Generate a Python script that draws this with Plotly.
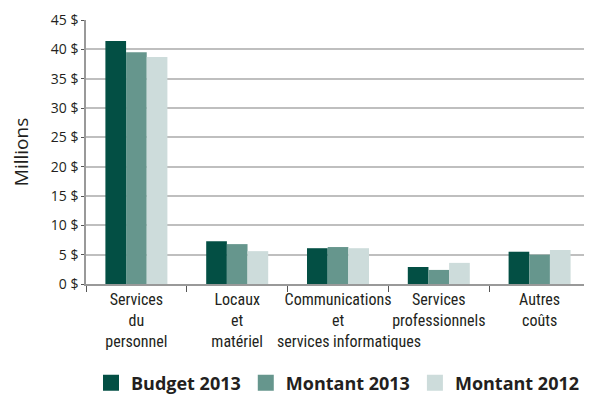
import plotly.graph_objects as go

categories = ["Services<br>du<br>personnel", "Locaux<br>et<br>matériel",
              "Communications<br>et<br>\u00a0\u00a0\u00a0\u00a0\u00a0\u00a0services informatiques",
              "Services<br>professionnels", "Autres<br>coûts"]
budget_2013 = [41.4, 7.3, 6.1, 2.9, 5.5]
montant_2013 = [39.5, 6.8, 6.3, 2.4, 5.0]
montant_2012 = [38.7, 5.6, 6.1, 3.6, 5.8]
y_ticks = [0, 5, 10, 15, 20, 25, 30, 35, 40, 45]
y_ticklabels = [f"{v} $" for v in y_ticks]

series = [("Budget 2013", budget_2013, "#034f44"),
          ("Montant 2013", montant_2013, "#66968d"),
          ("Montant 2012", montant_2012, "#cddcdb")]

fig = go.Figure()
for name, vals, col in series:
    fig.add_trace(go.Bar(name=name, x=categories, y=vals,
                         marker_color=col, marker_line_width=0, showlegend=False))
for name, vals, col in series:
    fig.add_trace(go.Scatter(name="<b>" + name + "</b>", x=[None], y=[None], mode="markers",
                             marker=dict(symbol="square", size=18, color=col),
                             showlegend=True))

font_c = "Liberation Sans Narrow, Arial Narrow, Roboto Condensed, sans-serif"
fig.update_layout(
    width=584, height=399,
    margin=dict(l=78, r=2, t=12, b=123, autoexpand=False),
    plot_bgcolor="white", paper_bgcolor="white",
    barmode="group", bargap=0.385, bargroupgap=0,
    font=dict(family=font_c, size=16, color="#231f20"),
    legend=dict(orientation="h", x=0.5, xanchor="center", y=-0.305, yanchor="top",
                font=dict(family="Open Sans, sans-serif", size=18, color="#231f20"),
                itemwidth=30, traceorder="normal"),
    showlegend=True,
)
fig.update_xaxes(showline=True, linecolor="#999999", linewidth=1.5, tickangle=0,
                 ticks="outside", tickson="boundaries", ticklen=6, tickcolor="#555555",
                 tickfont=dict(family=font_c, size=16), showgrid=False, automargin=False)
fig.update_yaxes(range=[0, 45], tickvals=y_ticks, ticktext=y_ticklabels,
                 showline=True, mirror=True, linecolor="#999999", linewidth=1.5,
                 ticks="outside", ticklen=3, tickcolor="#555555",
                 showgrid=True, gridcolor="#bfbfbf", gridwidth=1.5, automargin=False,
                 tickfont=dict(family="Open Sans, sans-serif", size=14),
                 title=dict(text="Millions", font=dict(family="Open Sans, sans-serif", size=19),
                            standoff=18))
fig.write_html("out.html")
